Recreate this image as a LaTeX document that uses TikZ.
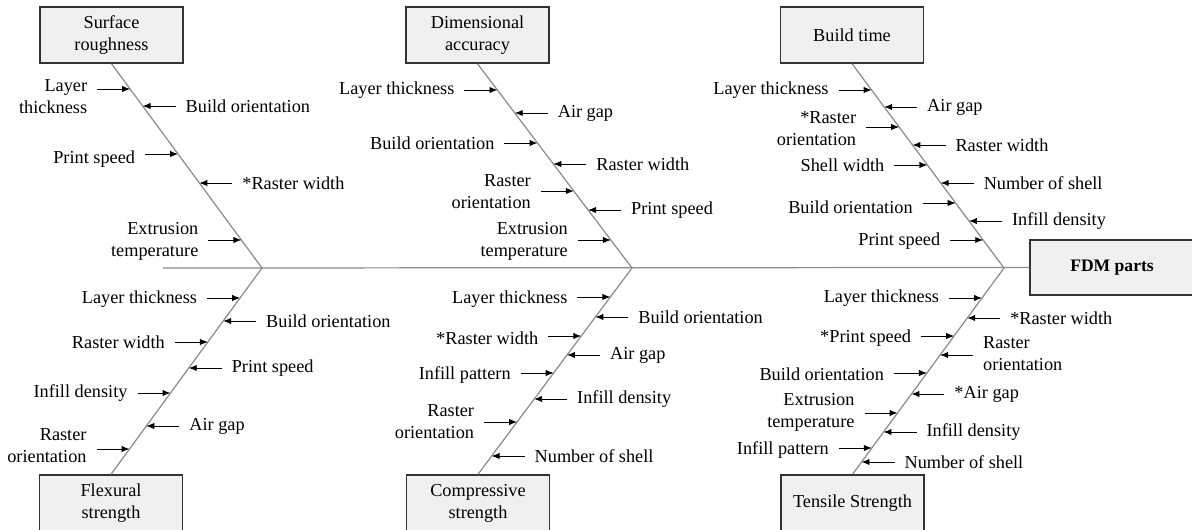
\documentclass[tikz,border=0pt]{standalone}
\usepackage{fontspec}
\setmainfont{Liberation Serif}
\usetikzlibrary{arrows.meta}

\tikzset{
  effect/.style={draw=black!80, fill=gray!12, line width=0.8pt, minimum width=2.86cm,
    minimum height=1.12cm, align=center, inner sep=2pt},
  bone/.style={draw=black!45, line width=0.7pt},
  arr/.style={-{Latex[length=4.5pt,width=3.6pt]}, line width=0.5pt},
  lcause/.style={anchor=east, align=right, inner xsep=5.5pt, inner ysep=1pt},
  rcause/.style={anchor=west, align=left, inner xsep=5.5pt, inner ysep=1pt},
}

\begin{document}
\begin{tikzpicture}[x=0.02cm, y=-0.02cm, font=\fontsize{10.4}{12.5}\selectfont]

    \useasboundingbox (0,0) rectangle (1192,530);
    \clip (0,0) rectangle (1192,530);

    % Effect boxes
    \node[effect] (sr) at (111.5,35) {Surface\\roughness};
    \node[effect] (da) at (477.5,35) {Dimensional\\accuracy};
    \node[effect] (bt) at (852,35) {Build time};
    \node[effect] (fs) at (111,503) {Flexural\\strength};
    \node[effect] (cs) at (478,503) {Compressive\\strength};
    \node[effect] (ts) at (852.5,503) {Tensile Strength};
    \node[effect, minimum width=3.28cm, minimum height=1.1cm, font=\bfseries] (fdm) at (1112,267.5) {FDM parts};

    % Spine and bones
    \coordinate (tail) at (163,268);
    \coordinate (j1) at (262,268);
    \coordinate (j2) at (632,268);
    \coordinate (j3) at (1004,268);
    \draw[bone] (tail) -- (fdm.west);
    \draw[bone] (sr.south) -- (j1) -- (fs.north);
    \draw[bone] (da.south) -- (j2) -- (cs.north);
    \draw[bone] (bt.south) -- (j3) -- (ts.north);

    % Surface roughness
    \foreach \y/\txt/\d [count=\i] in {89/{Layer\\thickness}/8, 154/{Print speed}/5, 240/{Extrusion\\temperature}/1} {
      \coordinate (sr-l\i) at (intersection of sr.south--j1 and 0,\y--1,\y);
      \node[lcause] (sr-lt\i) at ([shift={(-33,\d)}]sr-l\i) {\txt};
      \draw[arr] (sr-lt\i.east |- sr-l\i) -- (sr-l\i);
    }
    \foreach \y/\txt/\d [count=\i] in {106/{Build orientation}/0, 183/{*Raster width}/0} {
      \coordinate (sr-r\i) at (intersection of sr.south--j1 and 0,\y--1,\y);
      \node[rcause] (sr-rt\i) at ([shift={(33,\d)}]sr-r\i) {\txt};
      \draw[arr] (sr-rt\i.west |- sr-r\i) -- (sr-r\i);
    }

    % Dimensional accuracy
    \foreach \y/\txt/\d [count=\i] in {90/{Layer thickness}/0, 143/{Build orientation}/0, 191/{Raster\\orientation}/1, 240/{Extrusion\\temperature}/1} {
      \coordinate (da-l\i) at (intersection of da.south--j2 and 0,\y--1,\y);
      \node[lcause] (da-lt\i) at ([shift={(-33,\d)}]da-l\i) {\txt};
      \draw[arr] (da-lt\i.east |- da-l\i) -- (da-l\i);
    }
    \foreach \y/\txt/\d [count=\i] in {113/{Air gap}/0, 164/{Raster width}/0, 210/{Print speed}/0} {
      \coordinate (da-r\i) at (intersection of da.south--j2 and 0,\y--1,\y);
      \node[rcause] (da-rt\i) at ([shift={(33,\d)}]da-r\i) {\txt};
      \draw[arr] (da-rt\i.west |- da-r\i) -- (da-r\i);
    }

    % Build time
    \foreach \y/\txt/\d [count=\i] in {90/{Layer thickness}/0, 127/{*Raster\\orientation}/2, 165/{Shell width}/0, 203/{Build orientation}/4, 240/{Print speed}/1} {
      \coordinate (bt-l\i) at (intersection of bt.south--j3 and 0,\y--1,\y);
      \node[lcause] (bt-lt\i) at ([shift={(-33,\d)}]bt-l\i) {\txt};
      \draw[arr] (bt-lt\i.east |- bt-l\i) -- (bt-l\i);
    }
    \foreach \y/\txt/\d [count=\i] in {107/{Air gap}/0, 145/{Raster width}/0, 183/{Number of shell}/0, 221/{Infill density}/0} {
      \coordinate (bt-r\i) at (intersection of bt.south--j3 and 0,\y--1,\y);
      \node[rcause] (bt-rt\i) at ([shift={(33,\d)}]bt-r\i) {\txt};
      \draw[arr] (bt-rt\i.west |- bt-r\i) -- (bt-r\i);
    }

    % Flexural strength
    \foreach \y/\txt/\d [count=\i] in {298/{Layer thickness}/1, 342/{Raster width}/0, 393/{Infill density}/0, 449/{Raster\\orientation}/-3} {
      \coordinate (fs-l\i) at (intersection of fs.north--j1 and 0,\y--1,\y);
      \node[lcause] (fs-lt\i) at ([shift={(-33,\d)}]fs-l\i) {\txt};
      \draw[arr] (fs-lt\i.east |- fs-l\i) -- (fs-l\i);
    }
    \foreach \y/\txt/\d [count=\i] in {321/{Build orientation}/0, 368/{Print speed}/0, 426/{Air gap}/0} {
      \coordinate (fs-r\i) at (intersection of fs.north--j1 and 0,\y--1,\y);
      \node[rcause] (fs-rt\i) at ([shift={(33,\d)}]fs-r\i) {\txt};
      \draw[arr] (fs-rt\i.west |- fs-r\i) -- (fs-r\i);
    }

    % Compressive strength
    \foreach \y/\txt/\d [count=\i] in {297/{Layer thickness}/2, 336/{*Raster width}/2, 373/{Infill pattern}/2, 422/{Raster\\orientation}/0} {
      \coordinate (cs-l\i) at (intersection of cs.north--j2 and 0,\y--1,\y);
      \node[lcause] (cs-lt\i) at ([shift={(-33,\d)}]cs-l\i) {\txt};
      \draw[arr] (cs-lt\i.east |- cs-l\i) -- (cs-l\i);
    }
    \foreach \y/\txt/\d [count=\i] in {317/{Build orientation}/0, 355/{Air gap}/0, 399/{Infill density}/0, 456/{Number of shell}/0} {
      \coordinate (cs-r\i) at (intersection of cs.north--j2 and 0,\y--1,\y);
      \node[rcause] (cs-rt\i) at ([shift={(33,\d)}]cs-r\i) {\txt};
      \draw[arr] (cs-rt\i.west |- cs-r\i) -- (cs-r\i);
    }

    % Tensile strength
    \foreach \y/\txt/\d [count=\i] in {298/{Layer thickness}/0, 336/{*Print speed}/2, 373/{Build orientation}/1, 413/{Extrusion\\temperature}/-1, 448/{Infill pattern}/2} {
      \coordinate (ts-l\i) at (intersection of ts.north--j3 and 0,\y--1,\y);
      \node[lcause] (ts-lt\i) at ([shift={(-33,\d)}]ts-l\i) {\txt};
      \draw[arr] (ts-lt\i.east |- ts-l\i) -- (ts-l\i);
    }
    \foreach \y/\txt/\d [count=\i] in {318/{*Raster width}/0, 355/{Raster\\orientation}/-1, 394/{*Air gap}/0, 432/{Infill density}/0, 462/{Number of shell}/0} {
      \coordinate (ts-r\i) at (intersection of ts.north--j3 and 0,\y--1,\y);
      \node[rcause] (ts-rt\i) at ([shift={(33,\d)}]ts-r\i) {\txt};
      \draw[arr] (ts-rt\i.west |- ts-r\i) -- (ts-r\i);
    }
\end{tikzpicture}
\end{document}
